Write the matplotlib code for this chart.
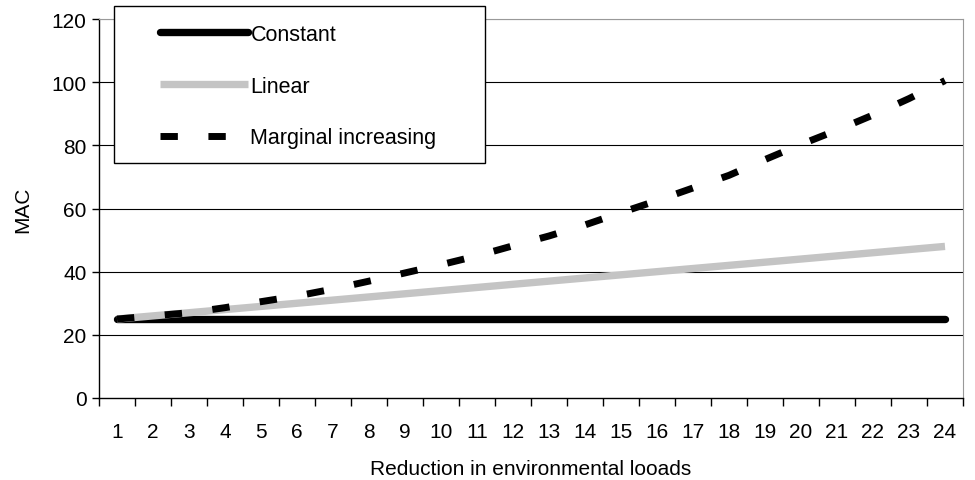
import matplotlib.pyplot as plt
from matplotlib.patches import Rectangle
import numpy as np

plt.rcParams["font.family"] = ["Liberation Sans", "DejaVu Sans"]
plt.rcParams["font.size"] = 15

categories = list(range(1, 25))
constant = [25] * 24
linear = [25, 26, 27, 28, 29, 30, 31, 32, 33, 34, 35, 36,
          37, 38, 39, 40, 41, 42, 43, 44, 45, 46, 47, 48]
marginal = [25, 26, 27, 28.6, 30.5, 32.3, 34.5, 37, 39.6, 42.2, 45, 48.2,
            51.3, 54.8, 58.7, 62.5, 66.5, 70.5, 75.5, 80.3, 84.8, 89.6, 94.8, 100.5]
y_ticks = [0, 20, 40, 60, 80, 100, 120]

W, H = 975, 481
fig = plt.figure(figsize=(W / 100, H / 100), dpi=100)
ax = fig.add_axes([99 / W, 1 - 399 / H, 864 / W, 379 / H])

x = np.array(categories)
ax.plot(x, constant, color="black", lw=5.3, solid_capstyle="round", label="Constant")
ax.plot(x, linear, color="#c4c4c4", lw=5.3, solid_capstyle="butt", label="Linear")
ax.plot(x, marginal, color="black", lw=5.0, dashes=(2.5, 4.4),
        dash_capstyle="butt", label="Marginal increasing")

ax.set_xlim(0.5, 24.5)
ax.set_ylim(0, 120)
ax.set_yticks(y_ticks)
ax.set_xticks(x)
ax.set_xticks(np.arange(0.5, 25, 1), minor=True)
ax.tick_params(axis="x", which="major", length=0, pad=17)
ax.tick_params(axis="x", which="minor", length=6, width=1, direction="out")
ax.tick_params(axis="y", length=5, width=1, direction="out", pad=4)

for v in y_ticks[1:-1]:
    ax.axhline(v, color="black", lw=0.8, zorder=0)
ax.axhline(120, color="#999999", lw=0.8, zorder=0)

ax.spines["left"].set_linewidth(1)
ax.spines["bottom"].set_linewidth(1)
ax.spines["right"].set_color("#999999")
ax.spines["top"].set_color("#999999")

ax.set_xlabel("Reduction in environmental looads", labelpad=13)
ax.set_ylabel("MAC", labelpad=14)

# legend box drawn by hand, entries placed inside it
box = Rectangle((114 / W, 1 - 164 / H), 371 / W, 157 / H,
                transform=fig.transFigure, facecolor="white",
                edgecolor="black", lw=1, zorder=5, clip_on=False)
ax.add_patch(box)
leg = ax.legend(loc="upper left", bbox_to_anchor=(160 / W, 1 - 25 / H),
                bbox_transform=fig.transFigure, borderaxespad=0, borderpad=0,
                frameon=False, handlelength=4.1, handletextpad=0.1,
                labelspacing=1.42, fontsize=15.5)
leg.set_zorder(6)

fig.savefig("out.png", dpi=100)
